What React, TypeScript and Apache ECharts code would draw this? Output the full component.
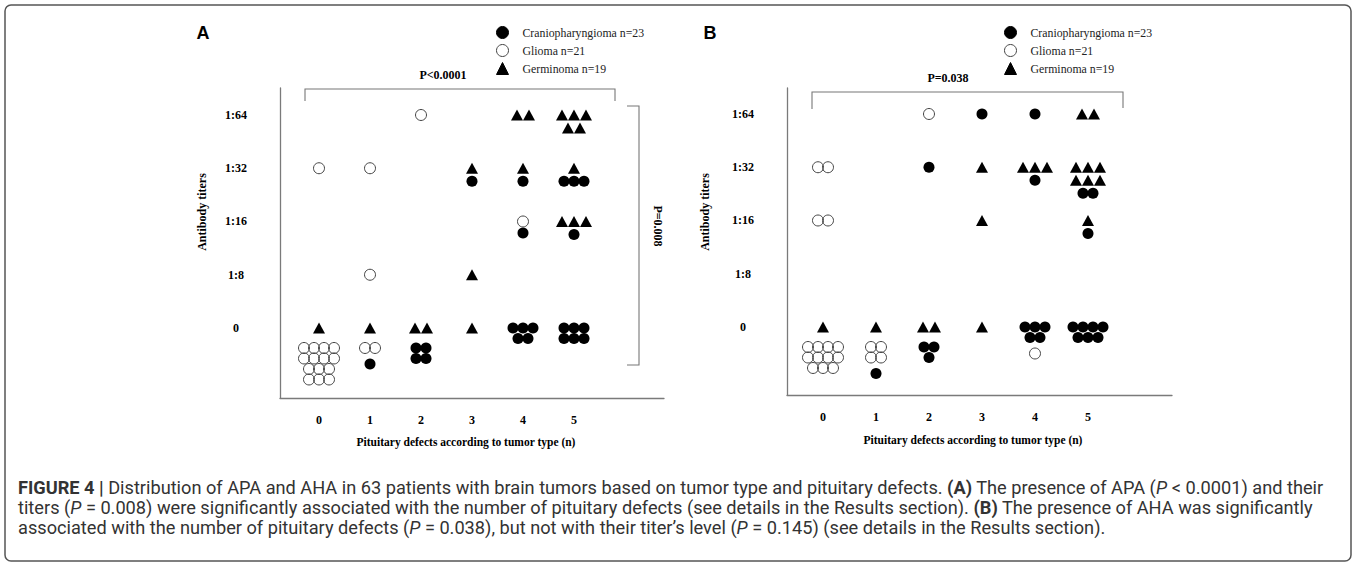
import React, { useEffect, useRef } from "react";
import * as echarts from "echarts";

// ---------- data ----------
const DEFECT_TICKS = [0, 1, 2, 3, 4, 5];
const TITER_LEVELS = [0, 1, 2, 3, 4];
const TITER_LABELS = ["0", "1:8", "1:16", "1:32", "1:64"];
const SERIES_NAMES = ["Craniopharyngioma n=23", "Glioma n=21", "Germinoma n=19"];

// [pituitary defects (n), titer level index, number of patients]
const craniopharyngiomaA = [[1, 0, 1], [2, 0, 4], [3, 3, 1], [4, 3, 1], [4, 2, 1], [4, 0, 5], [5, 3, 3], [5, 2, 1], [5, 0, 6]];
const gliomaA = [[0, 3, 1], [0, 0, 14], [1, 3, 1], [1, 1, 1], [1, 0, 2], [2, 4, 1], [4, 2, 1]];
const germinomaA = [[0, 0, 1], [1, 0, 1], [2, 0, 2], [3, 3, 1], [3, 1, 1], [3, 0, 1], [4, 4, 2], [4, 3, 1], [5, 4, 5], [5, 3, 1], [5, 2, 3]];

const craniopharyngiomaB = [[1, 0, 1], [2, 3, 1], [2, 0, 3], [3, 4, 1], [4, 4, 1], [4, 3, 1], [4, 0, 5], [5, 3, 2], [5, 2, 1], [5, 0, 7]];
const gliomaB = [[0, 3, 2], [0, 2, 2], [0, 0, 11], [1, 0, 4], [2, 4, 1], [4, 0, 1]];
const germinomaB = [[0, 0, 1], [1, 0, 1], [2, 0, 2], [3, 3, 1], [3, 2, 1], [3, 0, 1], [4, 3, 3], [5, 4, 2], [5, 3, 6], [5, 2, 1]];

const P_LABEL_A_TOP = "P<0.0001";
const P_LABEL_A_RIGHT = "P=0.008";
const P_LABEL_B_TOP = "P=0.038";
const Y_TITLE = "Antibody titers";
const X_TITLE = "Pituitary defects according to tumor type (n)";

// ---------- styles ----------
const SERIF = "'Liberation Serif', 'Times New Roman', serif";
const CAP_FONT = "Roboto, 'Liberation Sans', sans-serif";
const CAP_SIZE = 18.2;
const CAP_LINE = 20;
const AXIS_COLOR = "#7a7a7a";

// ---------- cluster layout (pixel offsets only) ----------
const KINDS = ["cranio", "glioma", "germinoma"];
const DEFAULT_ORDER = ["germinoma", "glioma", "cranio"];

function rowSizes(n: number) {
  if (n <= 3) return [n];
  if (n === 4) return [2, 2];
  const r = Math.max(2, Math.ceil(n / 4));
  const base = Math.floor(n / r);
  const extra = n % r;
  return Array.from({ length: r }, (_, i) => base + (i < extra ? 1 : 0));
}

function layoutPanel(sets: any, orderOverride: any, rowOverride: any) {
  const out: any = { cranio: [], glioma: [], germinoma: [] };
  const cells = new Map<string, any>();
  KINDS.forEach((kind) =>
    sets[kind].forEach(([d, t, n]: number[]) => {
      const key = d + "-" + t;
      if (!cells.has(key)) cells.set(key, { d, t });
      cells.get(key)[kind] = n;
    })
  );
  cells.forEach((cell, key) => {
    const order = orderOverride[key] || DEFAULT_ORDER;
    let y = 0;
    let prev: string | null = null;
    order.forEach((kind: string) => {
      const n = cell[kind];
      if (!n) return;
      const rows = rowOverride[key + "-" + kind] || rowSizes(n);
      const sp = kind === "germinoma" ? 12 : 10;
      rows.forEach((k: number) => {
        if (prev) {
          if (prev === kind) y += kind === "germinoma" ? 13 : 10.5;
          else if (prev === "germinoma") y += cell.t === 0 ? 20 : 13;
          else y += cell.t === 0 ? 16 : 11.5;
        }
        for (let j = 0; j < k; j++) {
          out[kind].push({ value: [cell.d, cell.t], symbolOffset: [(j - (k - 1) / 2) * sp, y] });
        }
        prev = kind;
      });
    });
  });
  return out;
}

const PANELS = [
  {
    grid: { left: 280, top: 88, width: 384, height: 310 },
    x: [-0.765, 6.765],
    y: [-1.315, 4.507],
    sets: { cranio: craniopharyngiomaA, glioma: gliomaA, germinoma: germinomaA },
    order: {},
    rows: {},
  },
  {
    grid: { left: 787, top: 88, width: 385, height: 307 },
    x: [-0.679, 6.585],
    y: [-1.277, 4.488],
    sets: { cranio: craniopharyngiomaB, glioma: gliomaB, germinoma: germinomaB },
    order: { "4-0": ["germinoma", "cranio", "glioma"] },
    rows: { "2-0-cranio": [2, 1] },
  },
];

function buildOption() {
  const grids: any[] = [];
  const xAxes: any[] = [];
  const yAxes: any[] = [];
  const series: any[] = [];

  PANELS.forEach((p, i) => {
    grids.push({ ...p.grid, containLabel: false });
    xAxes.push({
      type: "value",
      gridIndex: i,
      min: p.x[0],
      max: p.x[1],
      axisLine: { show: true, onZero: false, lineStyle: { color: AXIS_COLOR, width: 1.3 } },
      axisTick: { show: false },
      splitLine: { show: false },
      axisLabel: {
        customValues: DEFECT_TICKS,
        margin: 16,
        fontFamily: SERIF,
        fontWeight: "bold",
        fontSize: 12,
        color: "#000",
        formatter: (v: number) => String(v),
      },
    });
    yAxes.push({
      type: "value",
      gridIndex: i,
      min: p.y[0],
      max: p.y[1],
      axisLine: { show: true, onZero: false, lineStyle: { color: AXIS_COLOR, width: 1.3 } },
      axisTick: { show: false },
      splitLine: { show: false },
      axisLabel: {
        customValues: TITER_LEVELS,
        margin: 44,
        align: "center",
        fontFamily: SERIF,
        fontWeight: "bold",
        fontSize: 12,
        color: "#000",
        formatter: (v: number) => TITER_LABELS[v] ?? "",
      },
    });
    const pts = layoutPanel(p.sets, p.order, p.rows);
    series.push(
      {
        name: SERIES_NAMES[0],
        type: "scatter",
        xAxisIndex: i,
        yAxisIndex: i,
        symbol: "circle",
        symbolSize: 11,
        itemStyle: { color: "#000", borderColor: "#000", borderWidth: 0, opacity: 1 },
        data: pts.cranio,
        z: 3,
      },
      {
        name: SERIES_NAMES[1],
        type: "scatter",
        xAxisIndex: i,
        yAxisIndex: i,
        symbol: "circle",
        symbolSize: 11,
        itemStyle: { color: "rgba(255,255,255,0)", borderColor: "#444", borderWidth: 1, opacity: 1 },
        data: pts.glioma,
        z: 3,
      },
      {
        name: SERIES_NAMES[2],
        type: "scatter",
        xAxisIndex: i,
        yAxisIndex: i,
        symbol: "triangle",
        symbolSize: [12, 11],
        itemStyle: { color: "#000", borderColor: "#000", borderWidth: 0, opacity: 1 },
        data: pts.germinoma,
        z: 3,
      }
    );
  });

  const legendBase = {
    orient: "vertical",
    top: 26,
    itemWidth: 12,
    itemHeight: 12,
    itemGap: 5,
    padding: 0,
    selectedMode: false,
    data: SERIES_NAMES,
    itemStyle: { borderWidth: 1 },
    textStyle: { fontFamily: SERIF, fontSize: 11.8, color: "#222", padding: [0, 0, 0, 9] },
  };

  const txt = (x: number, y: number, text: string, font: any, extra: any = {}) => ({
    type: "text",
    x,
    y,
    silent: true,
    ...extra,
    style: { text, align: "center", verticalAlign: "middle", fill: "#000", ...font },
  });
  const serifBold = (size: number) => ({ fontFamily: SERIF, fontWeight: "bold", fontSize: size });
  const bracket = (points: number[][]) => ({
    type: "polyline",
    silent: true,
    shape: { points },
    style: { stroke: "#777", lineWidth: 1.1, fill: "none" },
  });

  const capBase = { fontFamily: CAP_FONT, fontSize: CAP_SIZE, lineHeight: CAP_LINE, fill: "#333" };
  const rich = {
    b: { fontFamily: CAP_FONT, fontSize: CAP_SIZE, lineHeight: CAP_LINE, fontWeight: "bold", fill: "#333" },
    i: { fontFamily: CAP_FONT, fontSize: CAP_SIZE, lineHeight: CAP_LINE, fontStyle: "italic", fill: "#333" },
  };
  const captionLines = [
    "{b|FIGURE 4 |} Distribution of APA and AHA in 63 patients with brain tumors based on tumor type and pituitary defects. {b|(A)} The presence of APA ({i|P} < 0.0001) and their",
    "titers ({i|P} = 0.008) were significantly associated with the number of pituitary defects (see details in the Results section). {b|(B)} The presence of AHA was significantly",
    "associated with the number of pituitary defects ({i|P} = 0.038), but not with their titer\u2019s level ({i|P} = 0.145) (see details in the Results section).",
  ];

  const graphic: any[] = [
    {
      type: "rect",
      silent: true,
      shape: { x: 5, y: 5, width: 1346, height: 556, r: 6 },
      style: { fill: "none", stroke: "#555", lineWidth: 1.5 },
      z: -1,
    },
    txt(203, 33, "A", { fontFamily: "'Liberation Sans', Arial, sans-serif", fontWeight: "bold", fontSize: 18 }),
    txt(710, 33, "B", { fontFamily: "'Liberation Sans', Arial, sans-serif", fontWeight: "bold", fontSize: 18 }),
    txt(202, 212, Y_TITLE, serifBold(12), { rotation: Math.PI / 2 }),
    txt(705, 212, Y_TITLE, serifBold(12), { rotation: Math.PI / 2 }),
    txt(466, 442, X_TITLE, serifBold(11.5)),
    txt(973, 440, X_TITLE, serifBold(11.5)),
    txt(443, 75, P_LABEL_A_TOP, serifBold(12)),
    txt(948, 78, P_LABEL_B_TOP, serifBold(12)),
    txt(658, 226, P_LABEL_A_RIGHT, serifBold(12), { rotation: -Math.PI / 2 }),
    bracket([[305, 101], [305, 89], [615, 89], [615, 101]]),
    bracket([[627, 106], [639, 106], [639, 365], [627, 365]]),
    bracket([[812, 109], [812, 92], [1123, 92], [1123, 108]]),
    ...captionLines.map((line, k) => ({
      type: "text",
      x: 18,
      y: 487 + k * CAP_LINE,
      silent: true,
      style: { text: line, rich, align: "left", verticalAlign: "middle", ...capBase },
    })),
  ];

  return {
    animation: false,
    backgroundColor: "#fff",
    grid: grids,
    xAxis: xAxes,
    yAxis: yAxes,
    legend: [
      { ...legendBase, left: 496 },
      { ...legendBase, left: 1004 },
    ],
    series,
    graphic,
  };
}

export default function App() {
  const ref = useRef<HTMLDivElement>(null);
  useEffect(() => {
    if (!ref.current) return;
    const chart = echarts.init(ref.current, null, { renderer: "svg" });
    chart.setOption(buildOption() as any);
    return () => chart.dispose();
  }, []);
  return (
    <div
      ref={ref}
      style={{ position: "absolute", left: 0, top: 0, width: 1357, height: 567, background: "#fff" }}
    />
  );
}
